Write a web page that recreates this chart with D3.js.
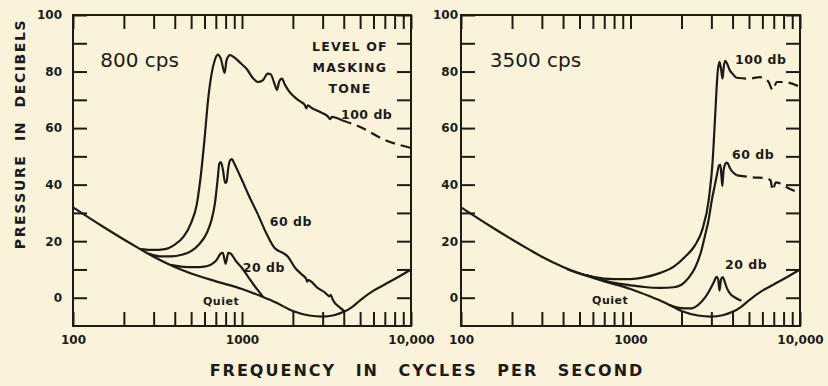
<!DOCTYPE html>
<html>
<head>
<meta charset="utf-8">
<script src="https://cdn.jsdelivr.net/npm/d3@7"></script>
<style>
  html, body { margin: 0; padding: 0; background: #faf3da; }
  svg { display: block; }
  text { font-family: "DejaVu Sans", sans-serif; fill: #1d1b18; }
  .axis text { font-size: 12px; font-weight: bold; }
  .axis line { stroke: #1d1b18; stroke-width: 2; }
  .axis path { display: none; }
</style>
</head>
<body>
<div id="chart"></div>
<script>
// values: [frequency (cps), level (db)]
const xTickValues = [100, 200, 300, 400, 500, 600, 700, 800, 900,
  1000, 2000, 3000, 4000, 5000, 6000, 7000, 8000, 9000, 10000];
const xLabelValues = [100, 1000, 10000];
const yTickValues = [0, 10, 20, 30, 40, 50, 60, 70, 80, 90, 100];
const yLabelValues = [0, 20, 40, 60, 80, 100];

// threshold in quiet (same curve in both panels)
const quiet = [[100, 32], [150, 25.2], [200, 20.6], [250, 17.2], [300, 14.5], [400, 10.9],
  [500, 8.6], [700, 5.8], [1000, 3.1], [1300, 0.5], [1600, -1.8], [2000, -4.7],
  [2500, -6.3], [3000, -6.7], [3500, -6.2], [4000, -5], [4500, -3.2], [5000, -0.9],
  [6000, 2.5], [7000, 4.7], [8000, 6.6], [10000, 10]];

// masking tone 800 cps
const m800_20 = [[380, 11.6], [450, 10.9], [520, 10.8], [600, 11], [660, 11.8],
  [710, 13.5], [745, 15.5], [770, 15.9], [800, 12], [830, 15.9], [860, 15.5],
  [920, 13], [1000, 10.5], [1070, 8], [1150, 5.3], [1250, 2.4], [1330, 0.4]];
const m800_60 = [[280, 15.6], [330, 14.6], [380, 14.6], [440, 15.2], [500, 16.5],
  [560, 19], [620, 23], [660, 27.5], [690, 33], [715, 41], [735, 47.5], [750, 48],
  [770, 45.5], [795, 40.6], [810, 41], [830, 46], [850, 48.6], [870, 49], [900, 47.5],
  [950, 44.5], [1010, 41], [1100, 36], [1230, 30], [1400, 22.5], [1550, 17.8],
  [1620, 16.8], [1700, 16.2], [1870, 14.5], [2060, 10.6], [2250, 8.3], [2400, 6.6],
  [2430, 5.7], [2470, 6.2], [2800, 3.5], [3100, 1.8], [3300, 0.5], [3350, 1],
  [3450, -0.8], [3800, -3.5], [4050, -4.8]];
const m800_100 = [[250, 17.2], [300, 16.9], [350, 17.2], [400, 18.8], [450, 21.5],
  [500, 26.5], [540, 33], [570, 43], [600, 56], [630, 70], [660, 79], [690, 84],
  [720, 86], [750, 84.5], [790, 79.5], [810, 84], [850, 85.8], [900, 85], [980, 83],
  [1070, 80.8], [1150, 78], [1240, 76.3], [1330, 77], [1420, 79.3], [1480, 79],
  [1560, 75.5], [1610, 73.5], [1660, 76.5], [1720, 77.5], [1800, 75.2], [1900, 73],
  [2000, 71.5], [2200, 69.5], [2350, 68.2], [2400, 67], [2450, 68], [2600, 67],
  [2900, 65.7], [3200, 64.3], [3330, 63.2], [3400, 64], [3900, 62.8]];
const m800_100Dash = [[3900, 62.8], [5000, 60.4], [7000, 55.8], [10000, 53]];

// masking tone 3500 cps
const m3500_20 = [[1700, -2.6], [2000, -3.7], [2250, -3.8], [2500, -2.6], [2750, 0],
  [2950, 3], [3100, 5.5], [3220, 7.4], [3290, 6.5], [3350, 2.5], [3420, 6.5],
  [3500, 7.3], [3580, 6], [3700, 3.5], [3850, 1.6], [4000, 0.6]];
const m3500_20Dash = [[4000, 0.6], [4400, -0.8], [4900, -1.4]];
const m3500_60 = [[550, 8], [700, 6.1], [850, 5], [1000, 4.4], [1200, 3.8],
  [1500, 3.5], [1800, 3.7], [2000, 4.6], [2200, 7], [2400, 10.5], [2600, 16],
  [2740, 21.5], [2900, 28], [3000, 33.6], [3150, 40], [3250, 44], [3330, 46.8],
  [3390, 47], [3440, 43], [3480, 39.5], [3540, 45], [3640, 47.5], [3720, 47.8],
  [3850, 46], [4000, 44.5], [4240, 43.3]];
const m3500_60Dash = [[4240, 43.3], [5270, 42.6], [6300, 42.3], [6700, 41.5],
  [6900, 38], [7200, 40.8], [7700, 40.3], [8500, 38.8], [10000, 37]];
const m3500_100 = [[420, 10.2], [500, 8.6], [600, 7.4], [800, 6.6], [1000, 6.6],
  [1200, 7.2], [1500, 8.8], [1800, 11], [2100, 14.5], [2400, 18.5], [2650, 24],
  [2900, 35], [3050, 48], [3150, 63], [3270, 80], [3350, 83.4], [3420, 81],
  [3490, 77.5], [3540, 81], [3610, 83.8], [3700, 83], [3850, 80.5], [4030, 79],
  [4200, 77.8]];
const m3500_100Dash = [[4200, 77.8], [5000, 77.5], [5800, 78], [6500, 76.5],
  [6900, 73.5], [7300, 76.3], [8000, 76.3], [10000, 74.6]];

// panel layout
const width = 828, height = 386;
const plotTop = 15, plotBottom = 326;
const panels = [
  { left: 73, right: 411, labelPad: 11, title: '800 cps', titleAt: [145, 84.1],
    solid: [quiet, m800_20, m800_60, m800_100], dashed: [m800_100Dash],
    notes: [
      { text: '100 db', at: [3850, 64.7] },
      { text: '60 db', at: [1460, 26.9] },
      { text: '20 db', at: [1010, 10.6] },
      { text: 'Quiet', at: [588, -1.1], small: true },
      { text: 'LEVEL OF', at: [4350, 88.7], mid: true },
      { text: 'MASKING', at: [4350, 81.3], mid: true },
      { text: 'TONE', at: [4350, 73.9], mid: true }
    ] },
  { left: 461, right: 800, labelPad: 3, title: '3500 cps', titleAt: [148, 84.1],
    solid: [quiet, m3500_20, m3500_60, m3500_100],
    dashed: [m3500_20Dash, m3500_60Dash, m3500_100Dash],
    notes: [
      { text: '100 db', at: [4140, 84.1] },
      { text: '60 db', at: [3970, 50.5] },
      { text: '20 db', at: [3610, 11.7] },
      { text: 'Quiet', at: [593, -0.7], small: true }
    ] }
];

const svg = d3.select('#chart').append('svg')
  .attr('width', width)
  .attr('height', height);

const y = d3.scaleLinear().domain([-10, 100]).range([plotBottom, plotTop]);

function drawPanel(p) {
  const x = d3.scaleLog().domain([100, 10000]).range([p.left, p.right]);
  const g = svg.append('g');

  const xFmt = d => xLabelValues.includes(d) ? (d === 10000 ? '10,000' : String(d)) : '';
  const yFmt = d => yLabelValues.includes(d) ? String(d) : '';

  g.append('g').attr('class', 'axis')
    .attr('transform', `translate(0,${plotBottom})`)
    .call(d3.axisBottom(x).tickValues(xTickValues).tickSize(-14).tickPadding(9).tickFormat(xFmt));
  g.append('g').attr('class', 'axis')
    .attr('transform', `translate(0,${plotTop})`)
    .call(d3.axisTop(x).tickValues(xTickValues).tickSize(-14).tickFormat(''));
  g.append('g').attr('class', 'axis')
    .attr('transform', `translate(${p.left},0)`)
    .call(d3.axisLeft(y).tickValues(yTickValues).tickSize(-14).tickPadding(p.labelPad).tickFormat(yFmt));
  g.append('g').attr('class', 'axis')
    .attr('transform', `translate(${p.right},0)`)
    .call(d3.axisRight(y).tickValues(yTickValues).tickSize(-14).tickFormat(''));

  g.append('rect')
    .attr('x', p.left).attr('y', plotTop)
    .attr('width', p.right - p.left).attr('height', plotBottom - plotTop)
    .attr('fill', 'none').attr('stroke', '#1d1b18').attr('stroke-width', 2);

  const line = d3.line()
    .x(d => x(d[0]))
    .y(d => y(d[1]))
    .curve(d3.curveMonotoneX);

  g.selectAll('path.solid')
    .data(p.solid)
    .enter().append('path')
    .attr('class', 'solid')
    .attr('d', line)
    .attr('fill', 'none')
    .attr('stroke', '#1d1b18')
    .attr('stroke-width', 2.2)
    .attr('stroke-linejoin', 'round');

  g.selectAll('path.dashed')
    .data(p.dashed)
    .enter().append('path')
    .attr('class', 'dashed')
    .attr('d', line)
    .attr('fill', 'none')
    .attr('stroke', '#1d1b18')
    .attr('stroke-width', 2.2)
    .attr('stroke-dasharray', '10,6');

  g.append('text')
    .attr('x', x(p.titleAt[0])).attr('y', y(p.titleAt[1]))
    .attr('dy', '0.35em')
    .style('font-size', '20px')
    .text(p.title);

  g.selectAll('text.note')
    .data(p.notes)
    .enter().append('text')
    .attr('class', 'note')
    .attr('x', d => x(d.at[0]))
    .attr('y', d => y(d.at[1]))
    .attr('dy', '0.35em')
    .attr('text-anchor', d => d.mid ? 'middle' : 'start')
    .style('font-size', d => d.small ? '11px' : '12.5px')
    .style('font-weight', 'bold')
    .style('letter-spacing', d => d.mid ? '1.2px' : '0.5px')
    .text(d => d.text);
}

panels.forEach(drawPanel);

svg.append('text')
  .attr('transform', 'translate(20,134) rotate(-90)')
  .attr('text-anchor', 'middle')
  .attr('dy', '0.35em')
  .style('font-size', '14px')
  .style('font-weight', 'bold')
  .style('letter-spacing', '1.6px')
  .style('word-spacing', '7px')
  .text('PRESSURE IN DECIBELS');

svg.append('text')
  .attr('x', 427).attr('y', 370)
  .attr('text-anchor', 'middle')
  .attr('dy', '0.35em')
  .style('font-size', '16px')
  .style('font-weight', 'bold')
  .style('letter-spacing', '2px')
  .style('word-spacing', '12px')
  .text('FREQUENCY IN CYCLES PER SECOND');
</script>
</body>
</html>
